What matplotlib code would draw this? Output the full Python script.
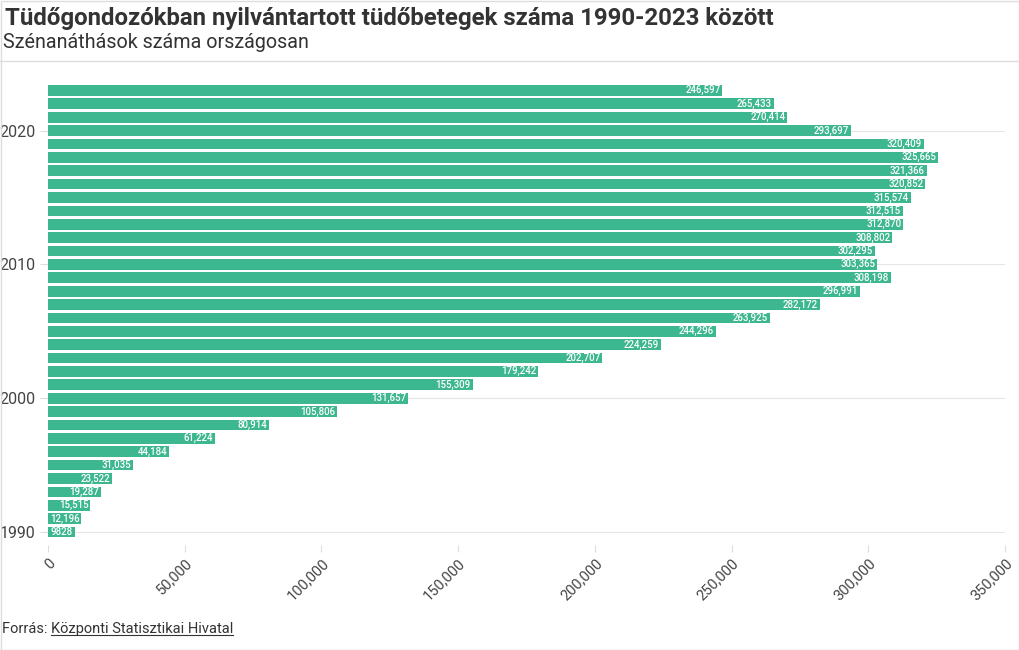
import matplotlib
matplotlib.use("Agg")
import matplotlib.pyplot as plt
from matplotlib.lines import Line2D
from matplotlib.ticker import FuncFormatter

years = list(range(1990, 2024))
values = [9828, 12196, 15515, 19287, 23522, 31035, 44184, 61224, 80914, 105806,
          131657, 155309, 179242, 202707, 224259, 244296, 263925, 282172, 296991, 308198,
          303365, 302295, 308802, 312870, 312515, 315574, 320852, 321366, 325665, 320409,
          293697, 270414, 265433, 246597]
x_ticks = [0, 50000, 100000, 150000, 200000, 250000, 300000, 350000]
y_ticks = [1990, 2000, 2010, 2020]

title = "Tüdőgondozókban nyilvántartott tüdőbetegek száma 1990-2023 között"
subtitle = "Szénanáthások száma országosan"
source_prefix = "Forrás: "
source_name = "Központi Statisztikai Hivatal"

plt.rcParams['font.family'] = ['Roboto', 'DejaVu Sans']
bar_color = "#3DB78F"

fig = plt.figure(figsize=(10.2, 6.5), dpi=100)
W, H = 1020, 650
ax = fig.add_axes([48 / W, 1 - 545 / H, (1005 - 48) / W, (545 - 80) / H])

ax.barh(years, values, height=0.8, color=bar_color, zorder=2)
for y, v in zip(years, values):
    lab = f"{v:,}" if v >= 10000 else f"{v}"
    ax.text(v - 700, y, lab, ha='right', va='center', fontsize=6.9, color='white',
            fontweight='medium', zorder=3)

ax.set_xlim(0, 350000)
ax.set_ylim(1989.03, 2023.78)
ax.set_xticks(x_ticks)
ax.xaxis.set_major_formatter(FuncFormatter(lambda v, p: f"{int(v):,}"))
ax.set_yticks(y_ticks)
ax.grid(axis='y', color='#e6e6e6', linewidth=0.8, zorder=0)
for s in ax.spines.values():
    s.set_visible(False)
ax.tick_params(axis='x', length=5, color='#dddddd', labelsize=10.5, labelcolor='#444444', pad=3)
ax.tick_params(axis='y', length=6, color='#dddddd', labelsize=11.5, labelcolor='#444444', pad=3)
for lbl in ax.get_xticklabels():
    lbl.set_rotation(45)
    lbl.set_ha('right')
    lbl.set_va('top')
    lbl.set_rotation_mode('anchor')

fig.text(5 / W, 1 - 18 / H, title, fontsize=17.3, fontweight='bold', color='#333333',
         va='center', ha='left')
fig.text(3 / W, 1 - 43 / H, subtitle, fontsize=14.2, color='#333333', va='center', ha='left')
fig.add_artist(Line2D([0, 1], [1 - 61 / H, 1 - 61 / H], transform=fig.transFigure,
                      color='#dddddd', linewidth=1))
# border
fig.add_artist(plt.Rectangle((0.5 / W, 0.5 / H), 1 - 1 / W, 1 - 1 / H, transform=fig.transFigure,
                             fill=False, edgecolor='#dddddd', linewidth=1))

t1 = fig.text(2 / W, 1 - 629 / H, source_prefix, fontsize=10.5, color='#333333', va='center', ha='left')
fig.canvas.draw()
r = fig.canvas.get_renderer()
bb = t1.get_window_extent(r)
t2 = fig.text(bb.x1 / W, 1 - 629 / H, source_name, fontsize=10.5, color='#333333', va='center', ha='left')
fig.canvas.draw()
bb2 = t2.get_window_extent(r)
uy = (bb2.y0 + 1.5) / H
fig.add_artist(Line2D([bb2.x0 / W, bb2.x1 / W], [uy, uy], transform=fig.transFigure,
                      color='#333333', linewidth=0.8))

fig.savefig("out.png", dpi=100)
